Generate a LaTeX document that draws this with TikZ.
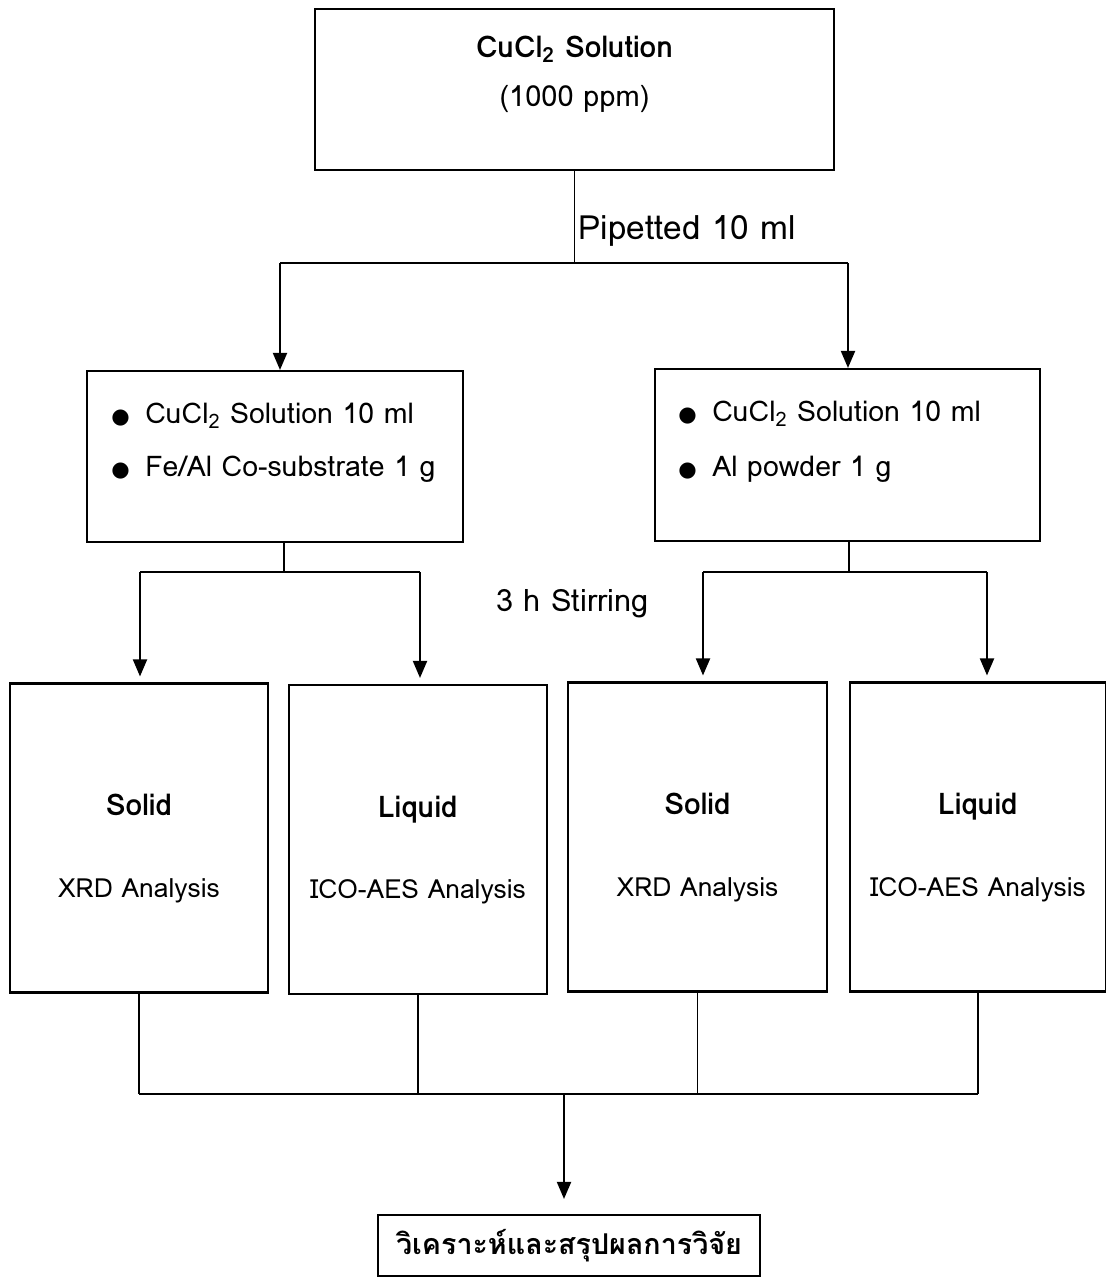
\documentclass[tikz,border=0pt]{standalone}
\usepackage{fontspec}
\setmainfont[Script=Thai]{Loma}
\newfontfamily\thaifont[Script=Thai]{Loma}
\newfontfamily\dotfont{DejaVu Sans}
\usetikzlibrary{arrows.meta,positioning}

\newcommand{\itm}[1]{\makebox[0.68cm][l]{\dotfont\fontsize{12}{12}\selectfont ●}#1}
\newcommand{\phase}[2]{\rule{0pt}{0.85cm}\textbf{\fontsize{17}{18}\selectfont #1}\\[1cm]#2}

\begin{document}
\begin{tikzpicture}[
    box/.style={draw, line width=1.2pt, inner sep=0pt},
    conn/.style={line width=1.1pt},
    arr/.style={line width=1.1pt, -{Triangle[length=0.34cm, width=0.28cm]}},
    txt/.style={font=\fontsize{15}{18}\selectfont, inner sep=0pt},
    head/.style={font=\fontsize{17}{20}\selectfont\bfseries, inner sep=0pt},
    bigtxt/.style={font=\fontsize{17.5}{21}\selectfont, inner sep=0pt},
    item/.style={font=\fontsize{16.2}{19}\selectfont, inner sep=0pt, anchor=west},
    tall/.style={box, txt, align=center, minimum height=6.18cm}
  ]
  \useasboundingbox (0,0) rectangle (22.1,-25.6);

  % Top: stock solution
  \node[box, minimum width=10.38cm, minimum height=3.22cm] (src) at (11.49,-1.79) {};
  \node[head] (srcname) at (11.49,-0.98) {CuCl\textsubscript{2} Solution};
  \node[txt, font=\fontsize{16.5}{19}\selectfont] (srcppm) at (11.49,-1.98) {(1000 ppm)};

  % Split into the two mixtures
  \coordinate[below=1.86cm of src.south] (split);
  \coordinate (jL) at (5.6,-5.26);
  \coordinate (jR) at (16.96,-5.26);
  \draw[conn] (src.south) -- (split);
  \draw[conn] (jL) -- (jR);
  \node[bigtxt, font=\fontsize{19}{22}\selectfont, anchor=west] (pip) at (11.56,-4.62) {Pipetted 10 ml};

  \node[box, minimum width=7.52cm, minimum height=3.42cm] (mixA) at (5.5,-9.13) {};
  \node[box, minimum width=7.7cm, minimum height=3.44cm] (mixB) at (16.95,-9.1) {};
  \draw[arr] (jL) -- (jL |- mixA.north);
  \draw[arr] (jR) -- (jR |- mixB.north);

  \node[item] (mixA1) at (2.22,-8.32) {\itm{CuCl\textsubscript{2} Solution 10 ml}};
  \node[item] (mixA2) at (2.22,-9.38) {\itm{Fe/Al Co-substrate 1 g}};
  \node[item] (mixB1) at (13.56,-8.28) {\itm{CuCl\textsubscript{2} Solution 10 ml}};
  \node[item] (mixB2) at (13.56,-9.38) {\itm{Al powder 1 g}};

  % Stirring: each mixture gives a solid and a liquid
  \coordinate (sA) at (5.68,-11.44);
  \coordinate (aL) at (2.8,-11.44);
  \coordinate (aR) at (8.4,-11.44);
  \coordinate (sB) at (16.98,-11.44);
  \coordinate (bL) at (14.06,-11.44);
  \coordinate (bR) at (19.74,-11.44);
  \draw[conn] (mixA.south -| sA) -- (sA);
  \draw[conn] (mixB.south -| sB) -- (sB);
  \draw[conn] (aL) -- (aR);
  \draw[conn] (bL) -- (bR);
  \node[bigtxt] (stir) at (11.45,-12.08) {3 h Stirring};

  \node[tall, minimum width=5.16cm] (solidA) at (2.78,-16.76) {\phase{Solid}{XRD Analysis}};
  \node[tall, minimum width=5.16cm] (liquidA) at (8.36,-16.79) {\phase{Liquid}{ICO-AES Analysis}};
  \node[tall, minimum width=5.18cm] (solidB) at (13.95,-16.74) {\phase{Solid}{XRD Analysis}};
  \node[tall, minimum width=5.12cm] (liquidB) at (19.56,-16.74) {\phase{Liquid}{ICO-AES Analysis}};

  \draw[arr, shorten >=0.12cm] (aL) -- (aL |- solidA.north);
  \draw[arr, shorten >=0.12cm] (aR) -- (aR |- liquidA.north);
  \draw[arr, shorten >=0.12cm] (bL) -- (bL |- solidB.north);
  \draw[arr, shorten >=0.12cm] (bR) -- (bR |- liquidB.north);

  % Merge and conclusion
  \coordinate (merge) at (11.28,-21.88);
  \node[box, minimum width=7.64cm, minimum height=1.22cm,
        font=\thaifont\bfseries\fontsize{16.3}{19}\selectfont] (result) at (11.38,-24.91) {วิเคราะห์และสรุปผลการวิจัย};
  \foreach \b in {solidA,liquidA,solidB,liquidB}
    \draw[conn] (\b.south) -- (\b.south |- merge);
  \draw[conn] (solidA.south |- merge) -- (liquidB.south |- merge);
  \draw[arr, shorten >=0.3cm] (merge) -- (merge |- result.north);
\end{tikzpicture}
\end{document}
